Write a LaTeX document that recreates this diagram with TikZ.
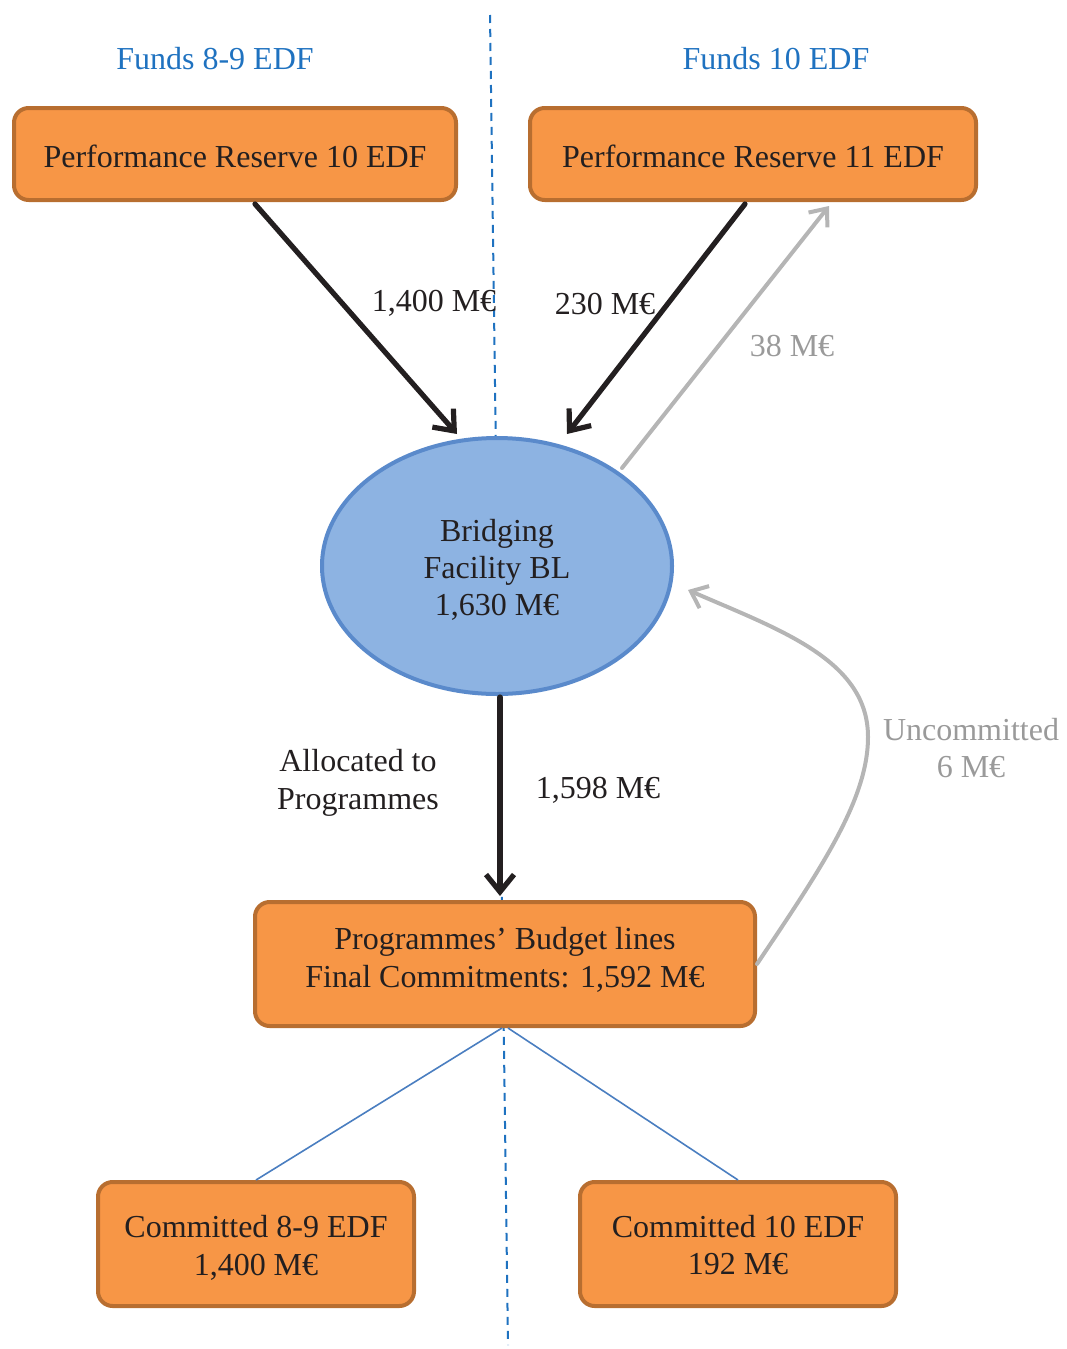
\documentclass[tikz,border=0pt]{standalone}
\usepackage{fontspec}
\setmainfont{Liberation Serif}
\usetikzlibrary{arrows.meta,calc,shapes.geometric}
\definecolor{orfill}{HTML}{F79646}
\definecolor{ordraw}{HTML}{B86E30}
\definecolor{elfill}{HTML}{8DB3E2}
\definecolor{eldraw}{HTML}{5A8ACB}
\definecolor{ttext}{HTML}{231F20}
\definecolor{grayline}{HTML}{B5B5B5}
\definecolor{graytext}{HTML}{9A9A9A}
\definecolor{bluetext}{HTML}{1F72C0}
\definecolor{thinblue}{HTML}{4A7EC0}
\begin{document}
\begin{tikzpicture}[x=0.75pt,y=-0.75pt,
  every node/.style={font=\fontsize{24}{28}\selectfont, text=ttext, align=center},
  obox/.style={draw=ordraw, fill=orfill, line width=3pt, rounded corners=11pt, inner sep=0pt},
  ell/.style={ellipse, draw=eldraw, fill=elfill, line width=3pt, inner sep=0pt,
              minimum width=262.5pt, minimum height=192pt},
  blkarrow/.style={draw=ttext, line width=3.9pt, line cap=round,
              -{Straight Barb[length=13pt,width=21pt,line width=3.9pt]}},
  grayarrow/.style={draw=grayline, line width=3pt, line cap=round,
              -{Straight Barb[length=11pt,width=18pt,line width=3pt]}},
  divider/.style={draw=bluetext, line width=1.5pt, dash pattern=on 6pt off 4.5pt},
  thinline/.style={draw=thinblue, line width=1.2pt},
  lbl/.style={text=ttext},
  glbl/.style={text=graytext},
  blbl/.style={text=bluetext}
]
\useasboundingbox (0,0) rectangle (1067,1349);

% divider
\coordinate (dtop) at (490,15);
\coordinate (dbot) at (508,1345);
\draw[divider] (dtop) -- (dbot);

% headings
\node[blbl] (h1) at (215,59) {Funds 8-9 EDF};
\node[blbl] (h2) at (776,59) {Funds 10 EDF};

% boxes
\node[obox, minimum width=331.5pt, minimum height=69pt] (pr10) at (235,154) {};
\node[lbl] (tpr10) at (235,156) {Performance Reserve 10 EDF};
\node[obox, minimum width=334.5pt, minimum height=69pt] (pr11) at (753,154) {};
\node[lbl] (tpr11) at (753,156) {Performance Reserve 11 EDF};
\node[ell] (bf) at (497,566) {};
\node[lbl] (tbf) at (497,570) {Bridging\\Facility BL\\1,630 M€};
\node[obox, minimum width=375pt, minimum height=93pt] (prog) at (505,964) {};
\node[lbl] (tprog) at (505,960) {Programmes’ Budget lines\\Final Commitments: 1,592 M€};
\node[obox, minimum width=237pt, minimum height=93pt] (c89) at (256,1244) {};
\node[lbl] (tc89) at (256,1248) {Committed 8-9 EDF\\1,400 M€};
\node[obox, minimum width=237pt, minimum height=93pt] (c10) at (738,1244) {};
\node[lbl] (tc10) at (738,1245) {Committed 10 EDF\\192 M€};

% connectors
\draw[blkarrow] ($(pr10.south)+(20,2)$) -- ($(bf.north)+(-40,-2)$);
\draw[blkarrow] ($(pr11.south)+(-8,2)$) -- ($(bf.north)+(70,-2)$);
\draw[grayarrow] ($(bf.center)+(125,-98)$) -- ($(pr11.south)+(76,4)$);
\draw[blkarrow] ($(bf.south)+(3,1)$) -- ($(prog.north)+(-5,-4)$);
\draw[grayarrow] (prog.east) .. controls (820,870) and (868,800) .. (868,737)
   .. controls (868,660) and (780,630) .. ($(bf.east)+(14,24)$);
\draw[thinline] ($(prog.south)+(-3,0)$) -- (c89.north);
\draw[thinline] ($(prog.south)+(3,0)$) -- (c10.north);

% labels
\node[lbl] (l1400) at (434,303) {1,400 M€};
\node[lbl] (l230) at (605,304) {230 M€};
\node[glbl] (l38) at (792,346) {38 M€};
\node[lbl] (lalloc) at (358,783) {Allocated to\\Programmes};
\node[lbl] (l1598) at (598,790) {1,598 M€};
\node[glbl] (lunc) at (971,748) {Uncommitted\\6 M€};
\end{tikzpicture}
\end{document}
